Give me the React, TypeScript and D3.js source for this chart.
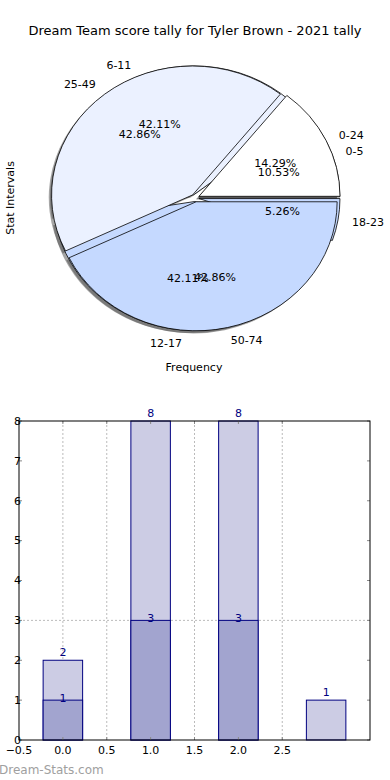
import { useEffect, useRef } from "react";
import * as d3 from "d3";

// pie data: two tallies drawn on top of each other
const pieALabels = ["0-5", "6-11", "12-17", "18-23"];
const pieAValues = [2, 8, 8, 1];
const pieBLabels = ["0-24", "25-49", "50-74"];
const pieBValues = [1, 3, 3];

// bar data
const barCategories = [0, 1, 2, 3];
const barTotals = [2, 8, 8, 1];
const barSecond = [1, 3, 3];
const xTicks = [-0.5, 0, 0.5, 1, 1.5, 2, 2.5];
const yTicks = [0, 1, 2, 3, 4, 5, 6, 7, 8];

const sliceColors = ["#ffffff", "#ebf1ff", "#c5d9ff", "#c5d9ff"];
const font = "DejaVu Sans, sans-serif";

const App = () => {
  const svgRef = useRef<SVGSVGElement>(null);

  useEffect(() => {
    const svg = d3.select(svgRef.current);
    svg.selectAll("*").remove();

    // title
    svg
      .append("text")
      .attr("x", 195)
      .attr("y", 35)
      .attr("text-anchor", "middle")
      .attr("font-size", 13)
      .text("Dream Team score tally for Tyler Brown - 2021 tally");

    // ---------- pie (elliptical, matplotlib style) ----------
    const cx = 195.2,
      cy = 198,
      rx = 141,
      ry = 129;
    const arc = d3.arc<any>().innerRadius(0).outerRadius(1);
    const pie = d3
      .pie<number>()
      .sort(null)
      .startAngle(Math.PI / 2)
      .endAngle(Math.PI / 2 - 2 * Math.PI);

    const pies = [
      { labels: pieALabels, slices: pie(pieAValues), total: d3.sum(pieAValues), explode: 0.027 },
      { labels: pieBLabels, slices: pie(pieBValues), total: d3.sum(pieBValues), explode: 0.03 },
    ];

    const mid = (d: any) => (d.startAngle + d.endAngle) / 2;
    const offset = (d: any, e: number, k: number) => {
      const a = mid(d);
      return [cx + Math.sin(a) * (e + k) * rx, cy - Math.cos(a) * (e + k) * ry];
    };

    const gPie = svg.append("g");
    // shadows go under every wedge
    pies.forEach((p) => {
      gPie
        .selectAll(null)
        .data(p.slices)
        .enter()
        .append("path")
        .attr("d", arc)
        .attr("transform", (d) => {
          const [x, y] = offset(d, p.explode, 0);
          return `translate(${x - 2.8},${y + 2.6}) scale(${rx},${ry})`;
        })
        .attr("fill", "#4d4d4d")
        .attr("opacity", 0.5);
    });
    pies.forEach((p) => {
      gPie
        .selectAll(null)
        .data(p.slices)
        .enter()
        .append("path")
        .attr("d", arc)
        .attr("transform", (d) => {
          const [x, y] = offset(d, p.explode, 0);
          return `translate(${x},${y}) scale(${rx},${ry})`;
        })
        .attr("fill", (d, i) => sliceColors[i])
        .attr("stroke", "#000")
        .attr("stroke-width", 0.8)
        .attr("vector-effect", "non-scaling-stroke");
    });
    pies.forEach((p) => {
      // category labels at 1.1 r
      gPie
        .selectAll(null)
        .data(p.slices)
        .enter()
        .append("text")
        .attr("x", (d) => offset(d, p.explode, 1.1)[0])
        .attr("y", (d) => offset(d, p.explode, 1.1)[1])
        .attr("dy", "0.35em")
        .attr("text-anchor", (d) => (Math.sin(mid(d)) < 0 ? "end" : "start"))
        .attr("font-size", 11)
        .text((d, i) => p.labels[i]);
      // percentages at 0.6 r
      gPie
        .selectAll(null)
        .data(p.slices)
        .enter()
        .append("text")
        .attr("x", (d) => offset(d, p.explode, 0.6)[0])
        .attr("y", (d) => offset(d, p.explode, 0.6)[1])
        .attr("dy", "0.35em")
        .attr("text-anchor", "middle")
        .attr("font-size", 11)
        .text((d) => ((d.data / p.total) * 100).toFixed(2) + "%");
    });

    svg
      .append("text")
      .attr("transform", "translate(14,198) rotate(-90)")
      .attr("text-anchor", "middle")
      .attr("font-size", 11)
      .text("Stat Intervals");
    svg
      .append("text")
      .attr("x", 194)
      .attr("y", 371)
      .attr("text-anchor", "middle")
      .attr("font-size", 11)
      .text("Frequency");

    // ---------- bars ----------
    const left = 19,
      right = 370,
      top = 421,
      bottom = 740;
    const x = d3.scaleLinear().domain([-0.5, 3.5]).range([left, right]);
    const y = d3.scaleLinear().domain([0, 8]).range([bottom, top]);
    const barW = x(0.45) - x(0);
    const gBar = svg.append("g");

    // dotted grid
    gBar
      .selectAll(null)
      .data(xTicks.slice(1))
      .enter()
      .append("line")
      .attr("x1", (d) => x(d))
      .attr("x2", (d) => x(d))
      .attr("y1", top)
      .attr("y2", bottom)
      .attr("stroke", "#bbb")
      .attr("stroke-dasharray", "2,2");
    gBar
      .append("line")
      .attr("x1", left)
      .attr("x2", right)
      .attr("y1", y(3))
      .attr("y2", y(3))
      .attr("stroke", "#bbb")
      .attr("stroke-dasharray", "2,2");

    gBar
      .selectAll(null)
      .data(barTotals)
      .enter()
      .append("rect")
      .attr("x", (d, i) => x(barCategories[i]) - barW / 2)
      .attr("y", (d) => y(d))
      .attr("width", barW)
      .attr("height", (d) => bottom - y(d))
      .attr("fill", "#ccccE4")
      .attr("stroke", "#000080")
      .attr("stroke-width", 1);
    gBar
      .selectAll(null)
      .data(barSecond)
      .enter()
      .append("rect")
      .attr("x", (d, i) => x(barCategories[i]) - barW / 2)
      .attr("y", (d) => y(d))
      .attr("width", barW)
      .attr("height", (d) => bottom - y(d))
      .attr("fill", "#a2a4cf")
      .attr("stroke", "#000080")
      .attr("stroke-width", 1);

    // value labels
    gBar
      .selectAll(null)
      .data(barTotals)
      .enter()
      .append("text")
      .attr("x", (d, i) => x(barCategories[i]))
      .attr("y", (d) => y(d) - 4)
      .attr("text-anchor", "middle")
      .attr("font-size", 11)
      .attr("fill", "#000080")
      .text((d) => d);
    gBar
      .selectAll(null)
      .data(barSecond)
      .enter()
      .append("text")
      .attr("x", (d, i) => x(barCategories[i]))
      .attr("y", (d) => y(d) + 2)
      .attr("text-anchor", "middle")
      .attr("font-size", 11)
      .attr("fill", "#000080")
      .text((d) => d);

    // inward ticks on all sides
    const tickColor = "#888";
    xTicks.forEach((t) => {
      gBar.append("line").attr("x1", x(t)).attr("x2", x(t)).attr("y1", bottom).attr("y2", bottom - 3).attr("stroke", tickColor);
      gBar.append("line").attr("x1", x(t)).attr("x2", x(t)).attr("y1", top).attr("y2", top + 3).attr("stroke", tickColor);
    });
    yTicks.forEach((t) => {
      gBar.append("line").attr("x1", left).attr("x2", left + 3).attr("y1", y(t)).attr("y2", y(t)).attr("stroke", tickColor);
      gBar.append("line").attr("x1", right).attr("x2", right - 3).attr("y1", y(t)).attr("y2", y(t)).attr("stroke", tickColor);
    });

    // frame
    gBar
      .append("rect")
      .attr("x", left)
      .attr("y", top)
      .attr("width", right - left)
      .attr("height", bottom - top)
      .attr("fill", "none")
      .attr("stroke", "#000")
      .attr("stroke-width", 1);

    gBar
      .selectAll(null)
      .data(xTicks)
      .enter()
      .append("text")
      .attr("x", (d) => x(d))
      .attr("y", bottom + 14)
      .attr("text-anchor", "middle")
      .attr("font-size", 11)
      .text((d) => d3.format(".1f")(d).replace("-", "\u2212"));
    gBar
      .selectAll(null)
      .data(yTicks)
      .enter()
      .append("text")
      .attr("x", left + 2)
      .attr("y", (d) => y(d))
      .attr("dy", "0.35em")
      .attr("text-anchor", "end")
      .attr("font-size", 11)
      .text((d) => d);

    // watermark
    svg
      .append("text")
      .attr("x", -1)
      .attr("y", 774)
      .attr("font-size", 12)
      .attr("fill", "#a0a0a0")
      .text("Dream-Stats.com");
  }, []);

  return (
    <svg
      ref={svgRef}
      width={390}
      height={780}
      style={{ position: "absolute", left: 0, top: 0, fontFamily: font, background: "#fff" }}
    />
  );
};

export default App;
